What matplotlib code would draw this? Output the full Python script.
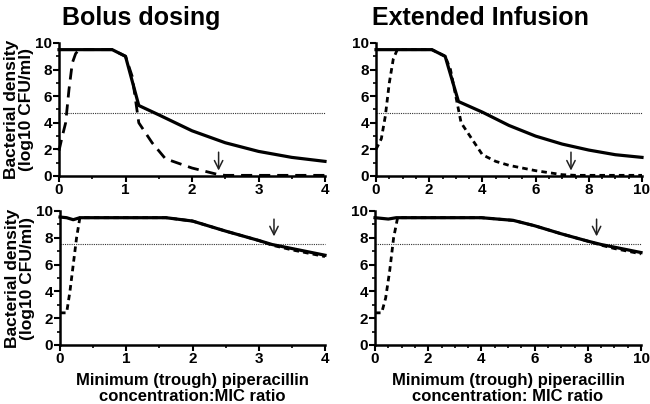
import numpy as np
import matplotlib.pyplot as plt
from matplotlib.ticker import MultipleLocator

plt.rcParams['font.family'] = ['Liberation Sans', 'DejaVu Sans']
plt.rcParams['font.weight'] = 'bold'

# Bolus dosing, top (dashed: low inoculum)
bt_x_solid = [0, 0.8, 1.0, 1.2, 1.5, 2.0, 2.5, 3.0, 3.5, 4.0]
bt_y_solid = [9.5, 9.5, 9.0, 5.3, 4.6, 3.4, 2.5, 1.85, 1.4, 1.1]
bt_x_dash = [0, 0.05, 0.1, 0.15, 0.2, 0.25, 0.3, 0.8, 1.0, 1.1, 1.2, 1.4, 1.6, 2.0, 2.4, 2.5, 4.0]
bt_y_dash = [1.9, 3.0, 4.0, 6.5, 8.5, 9.2, 9.5, 9.5, 9.0, 7.5, 4.0, 2.5, 1.3, 0.6, 0.1, 0.05, 0.05]

# Extended infusion, top
et_x_solid = [0, 2.1, 2.6, 3.1, 4, 5, 6, 7, 8, 9, 10]
et_y_solid = [9.5, 9.5, 9.0, 5.6, 4.8, 3.8, 3.0, 2.4, 1.95, 1.6, 1.4]
et_x_dot = [0, 0.2, 0.35, 0.5, 0.65, 0.8, 2.1, 2.6, 2.8, 3.0, 3.2, 3.6, 4.0, 4.5, 5, 6, 7, 7.5, 10]
et_y_dot = [2.0, 2.8, 4.5, 7.0, 8.8, 9.5, 9.5, 9.0, 8.0, 6.0, 4.0, 2.8, 1.6, 1.1, 0.8, 0.4, 0.1, 0.05, 0.05]

# Bolus dosing, bottom
bb_x_solid = [0, 0.1, 0.2, 0.3, 1.6, 2.0, 2.5, 3.0, 3.2, 3.5, 4.0]
bb_y_solid = [9.55, 9.5, 9.35, 9.5, 9.5, 9.25, 8.5, 7.8, 7.5, 7.2, 6.7]
bb_x_dot = [0, 0.1, 0.15, 0.2, 0.25, 0.3, 1.6, 2.0, 2.5, 3.0, 3.2, 3.5, 4.0]
bb_y_dot = [2.4, 2.4, 4.0, 6.0, 8.0, 9.5, 9.5, 9.25, 8.5, 7.8, 7.45, 7.1, 6.6]

# Extended infusion, bottom
eb_x_solid = [0, 0.5, 0.8, 4.0, 5.2, 6, 7, 8, 8.5, 9, 10]
eb_y_solid = [9.5, 9.4, 9.5, 9.5, 9.3, 8.9, 8.3, 7.75, 7.5, 7.3, 6.9]
eb_x_dot = [0, 0.25, 0.4, 0.55, 0.7, 0.85, 4.0, 5.2, 6, 7, 8, 8.5, 9, 10]
eb_y_dot = [2.4, 2.4, 3.5, 5.5, 8.0, 9.5, 9.5, 9.3, 8.9, 8.3, 7.75, 7.45, 7.2, 6.8]

thresholds = [4.7, 7.5]
arrows_x = [2.4, 7.33, 3.23, 8.33]
arrows_y = [(2.0, 0.2), (2.0, 0.2), (9.6, 7.9), (9.6, 7.9)]

fig = plt.figure(figsize=(6.5, 4.04), dpi=100)
W, H = 650, 404


def add_ax(l, r, t, b):
    return fig.add_axes([l / W, 1 - b / H, (r - l) / W, (b - t) / H])


ax_bt = add_ax(59, 325, 43, 176)
ax_et = add_ax(376, 642, 43, 176)
ax_bb = add_ax(60, 325, 211, 345)
ax_eb = add_ax(375, 641, 211, 345)

ax_bt.plot(bt_x_solid, bt_y_solid, color='black', lw=2.3, zorder=3)
ax_bt.plot(bt_x_dash, bt_y_dash, color='black', lw=2.0, dashes=(4, 2.5), zorder=2)
ax_et.plot(et_x_solid, et_y_solid, color='black', lw=2.3, zorder=3)
ax_et.plot(et_x_dot, et_y_dot, color='black', lw=2.0, dashes=(2, 1.5), zorder=2)
ax_bb.plot(bb_x_solid, bb_y_solid, color='black', lw=2.3, zorder=3)
ax_bb.plot(bb_x_dot, bb_y_dot, color='black', lw=2.0, dashes=(2, 1.5), zorder=2)
ax_eb.plot(eb_x_solid, eb_y_solid, color='black', lw=2.3, zorder=3)
ax_eb.plot(eb_x_dot, eb_y_dot, color='black', lw=2.0, dashes=(2, 1.5), zorder=2)

axes = [ax_bt, ax_et, ax_bb, ax_eb]
xmax = [4, 10, 4, 10]
for i, ax in enumerate(axes):
    ax.set_xlim(0, xmax[i])
    ax.set_ylim(0, 10)
    ax.axhline(thresholds[i // 2], color='#333333', lw=0.8, ls=(0, (1, 1)), zorder=1)
    ax.annotate('', xy=(arrows_x[i], arrows_y[i][1]), xytext=(arrows_x[i], arrows_y[i][0]),
                arrowprops=dict(arrowstyle='->', color='#222222', lw=1.1,
                                mutation_scale=15), zorder=4)
    for s in ['top', 'right']:
        ax.spines[s].set_visible(False)
    for s in ['left', 'bottom']:
        ax.spines[s].set_linewidth(1.8)
    ax.xaxis.set_major_locator(MultipleLocator(1 if xmax[i] == 4 else 2))
    ax.xaxis.set_minor_locator(MultipleLocator(0.5))
    ax.yaxis.set_major_locator(MultipleLocator(2))
    ax.yaxis.set_minor_locator(MultipleLocator(1))
    ax.tick_params(which='major', length=4, width=1.5, labelsize=11, pad=1)
    ax.tick_params(which='minor', length=2.5, width=1.2)
    for lab in ax.get_xticklabels() + ax.get_yticklabels():
        lab.set_fontweight('bold')
    ax.margins(0)
    for ln in ax.lines:
        ln.set_clip_on(False)

for ax in [ax_bt, ax_bb]:
    ax.set_ylabel('Bacterial density\n(log10 CFU/ml)', fontsize=12.5, fontweight='bold', labelpad=1,
                  linespacing=1.0)

ax_bb.set_xlabel('Minimum (trough) piperacillin\nconcentration:MIC ratio', fontsize=12,
                 fontweight='bold', labelpad=5, linespacing=1.1)
ax_eb.set_xlabel('Minimum (trough) piperacillin\nconcentration: MIC ratio', fontsize=12,
                 fontweight='bold', labelpad=5, linespacing=1.1)

fig.text(141 / W, 1 - 18 / H, 'Bolus dosing', ha='center', va='center', fontsize=18, fontweight='bold')
fig.text(480 / W, 1 - 18 / H, 'Extended Infusion', ha='center', va='center', fontsize=18,
         fontweight='bold')

fig.savefig('out.png', dpi=100)
